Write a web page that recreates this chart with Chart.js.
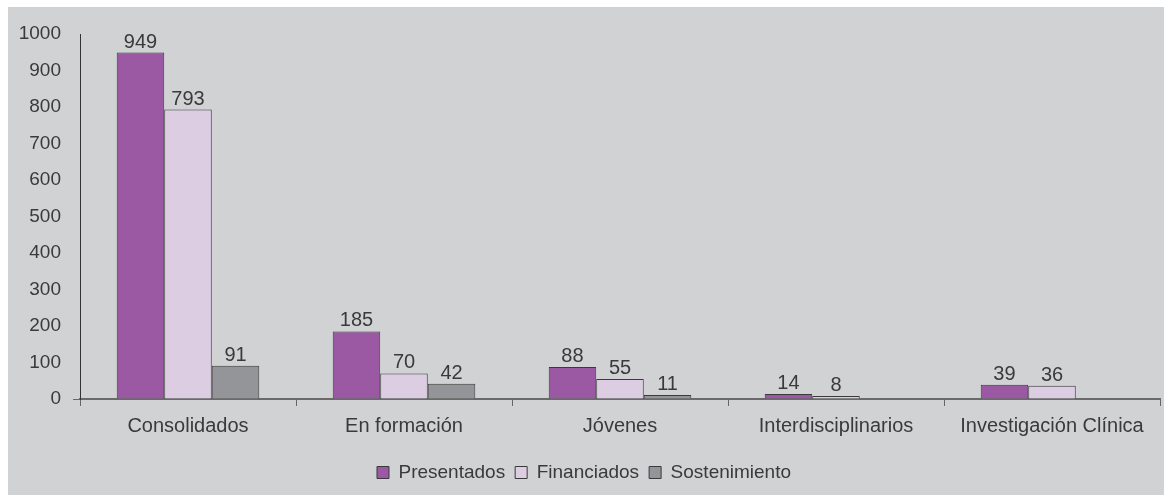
<!DOCTYPE html>
<html>
<head>
<meta charset="utf-8">
<script src="https://cdn.jsdelivr.net/npm/chart.js@4"></script>
<style>
  html, body { margin: 0; padding: 0; background: #ffffff; }
  #caja { position: absolute; left: 8px; top: 7px; width: 1156px; height: 488px; background: #d1d2d4; }
</style>
</head>
<body>
<div id="caja"><canvas id="grupos"></canvas></div>
<script>
// categorias y series
var categorias = ['Consolidados', 'En formación', 'Jóvenes', 'Interdisciplinarios', 'Investigación Clínica'];
var presentados = [949, 185, 88, 14, 39];
var financiados = [793, 70, 55, 8, 36];
var sostenimiento = [91, 42, 11, null, null];
var ticksY = [0, 100, 200, 300, 400, 500, 600, 700, 800, 900, 1000];

var familia = '"Liberation Sans", Arial, sans-serif';

// etiquetas encima de cada barra
var etiquetas = {
	id: 'etiquetas',
	afterDatasetsDraw: function(chart) {
		var ctx = chart.ctx;
		ctx.save();
		ctx.font = '20px ' + familia;
		ctx.fillStyle = '#3a3a3a';
		ctx.textAlign = 'center';
		ctx.textBaseline = 'alphabetic';
		chart.data.datasets.forEach(function(ds, i) {
			chart.getDatasetMeta(i).data.forEach(function(bar, j) {
				if (ds.data[j] == null) return;
				ctx.fillText(ds.data[j], bar.x, bar.y - 5);
			});
		});
		ctx.restore();
	}
};

Chart.defaults.font = { family: familia, size: 19 };
Chart.defaults.color = '#3a3a3a';

let ctx = document.getElementById('grupos');
let chart = new Chart(ctx, {
	type: 'bar',
	data: {
		labels: categorias,
		datasets: [
			{ label: 'Presentados', data: presentados, backgroundColor: '#9b59a4', borderColor: '#3a3a3a', borderWidth: 1 },
			{ label: 'Financiados', data: financiados, backgroundColor: '#dccde3', borderColor: '#3a3a3a', borderWidth: 1 },
			{ label: 'Sostenimiento', data: sostenimiento, backgroundColor: '#939598', borderColor: '#3a3a3a', borderWidth: 1 }
		]
	},
	options: {
		responsive: true,
		maintainAspectRatio: false,
		animation: false,
		layout: { padding: { top: 27, right: 4, left: 0, bottom: 3 } },
		datasets: { bar: { categoryPercentage: 0.66, barPercentage: 1 } },
		plugins: {
			legend: {
				position: 'bottom',
				labels: { boxWidth: 12, boxHeight: 12, padding: 10, color: '#3a3a3a', font: { family: familia, size: 19 } }
			},
			tooltip: { enabled: false }
		},
		scales: {
			x: {
				afterFit: function(axis) { axis.height += 7; },
				grid: { drawOnChartArea: false, drawTicks: true, tickLength: 7, color: '#666666' },
				border: { color: '#6a6a6a', width: 2 },
				ticks: { padding: 8, font: { family: familia, size: 20 }, color: '#3a3a3a' }
			},
			y: {
				min: 0,
				max: 1000,
				afterBuildTicks: function(axis) { axis.ticks = ticksY.map(function(v) { return { value: v }; }); },
				afterFit: function(axis) { axis.width = 72; },
				grid: {
					drawOnChartArea: false,
					tickLength: 7,
					color: function(c) { return c.tick && c.tick.value === 0 ? '#666666' : 'rgba(0,0,0,0)'; }
				},
				border: { color: '#333333', width: 1 },
				ticks: {
					padding: 12,
					font: { family: familia, size: 19 },
					color: '#3a3a3a',
					callback: function(v) { return String(v); }
				}
			}
		}
	},
	plugins: [etiquetas]
});
</script>
</body>
</html>
